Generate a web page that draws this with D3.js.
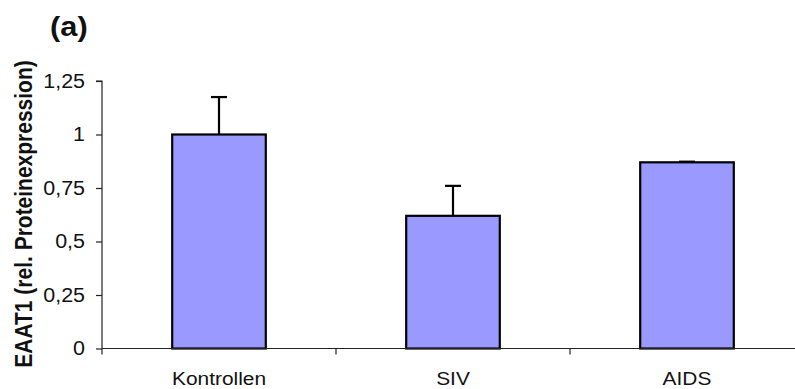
<!DOCTYPE html>
<html>
<head>
<meta charset="utf-8">
<script src="https://cdn.jsdelivr.net/npm/d3@7"></script>
<style>
  html, body { margin: 0; padding: 0; background: #fff; }
  svg { display: block; font-family: "Liberation Sans", Arial, sans-serif; }
</style>
</head>
<body>
<svg id="chart" width="795" height="389"></svg>
<script>
const categories = ["Kontrollen", "SIV", "AIDS"];
const values = [1.0, 0.62, 0.87];
const errors = [0.175, 0.14, 0.003];
const yTicks = [0, 0.25, 0.5, 0.75, 1, 1.25];
const yTickLabels = ["0", "0,25", "0,5", "0,75", "1", "1,25"];
const yLabel = "EAAT1 (rel. Proteinexpression)";
const panelLabel = "(a)";

(function () {
const svg = d3.select("#chart");
const mLeft = 102, mRight = 804, mBottom = 348.5, mTop = 81;
const sx = 1.1; // horizontal text stretch seen in the reference

const x = d3.scaleBand().domain(categories).range([mLeft, mRight]).padding(0);
const y = d3.scaleLinear().domain([0, 1.25]).range([mBottom, mTop]);

const barW = x.bandwidth() * 0.4;

// bars
svg.append("g").selectAll("rect").data(categories).join("rect")
  .attr("x", d => x(d) + (x.bandwidth() - barW) / 2)
  .attr("y", (d, i) => y(values[i]))
  .attr("width", barW)
  .attr("height", (d, i) => y(0) - y(values[i]))
  .attr("fill", "#9999ff")
  .attr("stroke", "#000")
  .attr("stroke-width", 2.2);

// error bars
const eg = svg.append("g").attr("stroke", "#000").attr("stroke-width", 2.2);
categories.forEach((c, i) => {
  const cx = x(c) + x.bandwidth() / 2;
  eg.append("line").attr("x1", cx).attr("x2", cx)
    .attr("y1", y(values[i])).attr("y2", y(values[i] + errors[i]));
  eg.append("line").attr("x1", cx - 8).attr("x2", cx + 8)
    .attr("y1", y(values[i] + errors[i])).attr("y2", y(values[i] + errors[i]));
});

// y axis
const yAxis = d3.axisLeft(y).tickValues(yTicks)
  .tickFormat((d, i) => yTickLabels[i]).tickSize(6).tickPadding(11);
const ya = svg.append("g").attr("transform", `translate(${mLeft},0)`).call(yAxis);
ya.select(".domain").attr("d", `M-6,${mTop}H0V${mBottom}`).attr("stroke", "#222").attr("stroke-width", 1.2);
ya.selectAll(".tick line").attr("stroke", "#222").attr("stroke-width", 1.2);
ya.selectAll(".tick text")
  .attr("x", 0)
  .attr("transform", `translate(-17,0) scale(${sx},1)`)
  .attr("font-size", 19.5).attr("fill", "#111")
  .attr("font-family", "'Liberation Sans', Arial, sans-serif");

// x axis
const xa = svg.append("g").attr("transform", `translate(0,${mBottom})`);
xa.append("line").attr("x1", mLeft).attr("x2", mRight).attr("y1", 0).attr("y2", 0)
  .attr("stroke", "#222").attr("stroke-width", 1.2);
const boundaries = categories.map(c => x(c)).concat([x(categories[categories.length - 1]) + x.bandwidth()]);
xa.selectAll("line.tk").data(boundaries).join("line").attr("class", "tk")
  .attr("x1", d => d).attr("x2", d => d).attr("y1", 0).attr("y2", 6)
  .attr("stroke", "#222").attr("stroke-width", 1.2);
xa.selectAll("text").data(categories).join("text")
  .attr("transform", d => `translate(${x(d) + x.bandwidth() / 2},36.5) scale(${sx},1)`)
  .attr("text-anchor", "middle")
  .attr("font-size", 19)
  .attr("fill", "#111")
  .text(d => d);

// y label
svg.append("text")
  .attr("transform", `translate(31.5,${(58 + 370) / 2}) scale(1.12,1) rotate(-90)`)
  .attr("text-anchor", "middle")
  .attr("font-size", 21)
  .attr("font-weight", "bold")
  .attr("fill", "#111")
  .text(yLabel);

// panel label
svg.append("text")
  .attr("transform", `translate(50,36) scale(${sx},1)`)
  .attr("font-size", 28)
  .attr("font-weight", "bold")
  .attr("fill", "#111")
  .text(panelLabel);
})();
</script>
</body>
</html>
